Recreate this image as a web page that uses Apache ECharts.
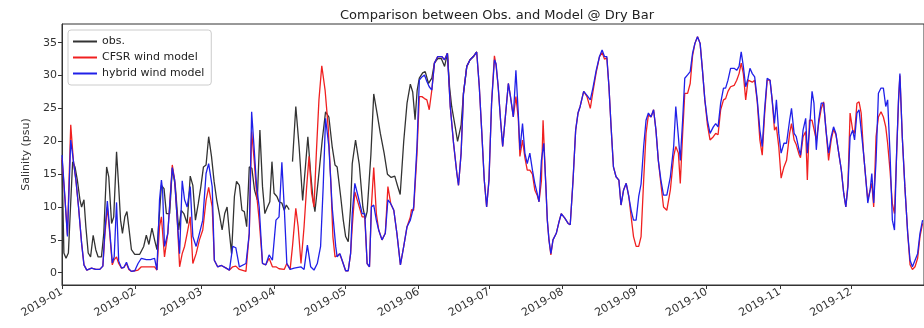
<!DOCTYPE html>
<html><head><meta charset="utf-8">
<script src="https://cdn.jsdelivr.net/npm/echarts@6/dist/echarts.min.js"></script>
<style>html,body{margin:0;padding:0;background:#fff}#c{width:924px;height:328px}</style>
</head><body><div id="c"></div>
<script>
// x values are days since 2019-01-01
const monthDays = [0,31,59,90,120,151,181,212,243,273,304,334];
const monthLabels = ['2019-01','2019-02','2019-03','2019-04','2019-05','2019-06','2019-07','2019-08','2019-09','2019-10','2019-11','2019-12'];
const yTicks = [0,5,10,15,20,25,30,35];

const obsDay = [0,0.8,1.7,2.7,4.5,5.5,6.5,7.6,8.3,9.3,10.1,11.1,12.1,13.2,14.3,15.3,16.7,17.7,18.9,19.8,21.0,21.9,23.1,24.0,24.8,25.6,26.6,27.5,28.4,29.4,30.8,32.9,34.6,35.7,36.8,38.1,39.2,40.2,42.1,43.2,44.2,45.6,46.7,48.0,49.4,50.5,51.6,53.0,54.3,55.4,56.5,57.7,58.8,59.9,61.0,62.1,63.3,64.4,65.5,66.6,67.8,68.9,69.9,70.9,71.8,73.0,73.9,75.1,76.2,77.2,78.2,79.3,80.4,81.5,82.7,83.8,84.9,85.9,87.0,88.0,88.9,89.8,91.0,91.9,93.1,94.1,95.0,96.2,96.9,97.6,99.0,100.4,101.9,104.1,105.3,106.3,107.1,108.5,110.2,111.6,113.0,114.4,115.6,116.5,118.0,119.1,120.1,121.2,122.2,122.9,124.3,125.9,127.4,128.4,129.2,130.8,132.0,133.4,134.8,136.4,137.8,139.4,140.9,142.1,143.2,144.7,146.1,147.5,148.5,149.5,150.4,151.3,152.7,153.8,155.2,156.6,157.7,159.1,160.6,162.0,163.2,164.1,165.0,166.5,167.5,169.0,170.0,171.4,172.8,174.2,175.6];
const obsSal = [17.2,3.0,2.2,3.0,16.9,16.1,14.1,11.1,10,11.1,7,3,2.4,5.7,3.5,2.4,2.4,6,16.1,14.6,7.5,8.5,18.4,13.1,8,6,8.5,9.3,6.6,3.5,2.8,2.8,4,5.7,4.3,6.8,5,3.5,13.3,12.8,9,9,15.9,13.1,6.5,9.5,9,7.5,14.7,13.3,8,10.5,13.1,16.1,16.4,20.7,17.7,13.9,11.1,9,6.5,9,10,6,2.9,11.6,13.9,13.3,9.5,9.3,7,16.1,15.9,12.6,11.1,21.7,13.1,9,10,10.8,16.9,12.1,11.6,10.8,10.6,9.5,10.3,9.6,null,16.9,25.3,19.2,11,20.7,15.1,11.1,9.3,14.1,20.2,24.5,23.7,19.2,16.4,16.1,11.6,8,5.5,4.7,10,16.6,20.2,16.4,10,8.2,9.3,18,27.2,24.3,21.2,18.2,15,14.5,14.7,13.2,11.9,20,25.8,28.7,27.5,23.3,27.8,29.6,30.4,30.6,28.8,29.6,31.9,32.6,32.6,31.4,33.4,28.3,25.3,22.2,20,22.5,27.3,31.4,32.4,32.9,33.6];

const hybDay = [0,1.3,2.3,3.7,4.8,5.9,7.0,8.3,9.3,10.5,12.5,13.2,14.3,16.0,17.3,18.1,19.2,20.2,21.3,22.1,23.1,24.0,25.2,26.2,27.3,28.3,29.4,30.8,32.2,33.6,35.7,37.5,39.2,40.2,41.3,42.1,42.6,43.4,44.8,46.7,47.7,48.8,49.8,50.9,51.9,53.0,54.3,55.4,56.8,58.2,59.6,61.0,62.1,63.6,64.5,65.9,67.5,69.5,70.9,72.3,73.6,75.1,77.9,79.3,80.3,81.4,82.4,83.5,84.9,86.3,87.7,89.1,90.6,91.9,93.1,94.1,95.2,96.6,98.3,101.1,102.5,103.9,105.3,106.7,108.1,109.5,110.6,111.6,113.0,114.4,115.9,116.5,117.7,118.6,120.1,121.2,122.2,122.9,124.0,125.4,127.1,128.2,129.2,130.2,131.0,132.0,133.1,134.1,135.5,136.9,138.0,139.2,140.5,141.8,143.3,144.7,146.1,147.5,148.9,150.3,151.3,152.4,153.5,154.5,155.5,156.6,157.7,159.1,160.8,162.0,163.2,164.4,165.8,167.2,167.9,169.0,170.0,171.4,172.8,174.2,175.6,176.7,177.7,178.8,179.8,180.8,181.9,183.1,183.8,184.7,185.7,186.6,187.6,189.0,189.9,191.1,192.2,193.2,193.9,195.0,196.0,197.0,198.1,199.2,200.2,201.2,202.0,203.0,204.0,204.9,205.5,206.2,207.0,207.9,209.3,210.5,211.4,212.9,214.3,215.2,216.4,217.5,218.5,219.4,220.9,222.3,223.7,224.8,226.2,227.6,228.7,229.7,230.7,231.6,232.5,233.5,234.6,235.8,236.7,237.8,238.9,240.0,241.0,242.0,243.1,244.2,245.2,246.3,247.3,248.3,249.4,250.5,251.5,252.5,253.6,254.7,256.1,257.6,259.0,259.9,261.0,261.8,262.8,263.7,264.9,266.0,267.0,268.0,269.1,270.2,271.2,272.2,273.3,274.4,275.8,276.8,277.8,278.9,280.1,281.0,282.0,283.1,284.6,285.7,286.7,287.6,288.5,289.5,290.5,291.3,292.3,293.3,294.4,295.5,296.5,297.5,298.6,299.8,300.7,301.7,302.5,303.5,304.5,305.7,306.8,308.1,308.9,310.0,310.9,312.1,312.7,313.8,314.9,315.6,316.5,317.6,318.4,319.4,320.4,321.5,322.5,323.5,324.6,325.7,326.7,327.7,328.9,330.0,331.0,331.9,332.8,333.7,334.8,335.6,336.6,337.5,338.4,339.4,340.4,341.2,342.2,342.9,343.7,344.7,345.7,346.8,347.8,348.8,349.6,350.6,351.6,352.5,353.4,354.2,354.8,355.8,356.9,358.1,359.1,360.1,361.2,362.3,363.3,364.4];
const hybSal = [17.9,11.1,5.5,20.2,17.1,14.1,10,4.5,1.2,0.4,0.7,1,0.5,0.5,1,6,10.9,6.5,1.5,2.4,10.7,1.8,0.7,0.8,1.6,0.6,0.2,0.3,1.4,2.2,2.0,2.0,2.2,0.4,11.1,14.1,12.5,4,6,16,14.1,8,2.9,14,11.1,10,13.1,5.5,4,6,8,15.1,16.6,13.1,1.9,0.9,1.1,0.7,0.4,4,3.8,0.9,1.4,6,24.5,18.7,13.1,10,1.4,1.2,2.7,1.9,8,8.5,16.8,10,1.4,0.5,0.7,0.9,0.5,4.2,0.9,0.4,1.4,4,13.1,23.5,19.2,10,4,2.4,2.9,1.9,0.3,0.3,2.9,9,13.6,11.6,9,9,1.4,0.9,10,10.3,8,6.5,5,6,11.1,10.5,9.5,6,1.2,4,7,8,10,19.2,29.3,29.8,30.1,29.1,28.3,27.8,31.9,32.9,32.9,32.4,33.4,25.3,19.7,15.1,13.3,18.2,27.3,31.4,32.4,32.9,33.6,28.3,21.7,14.1,10,14.1,25.8,32.4,31.8,28.3,23.2,19.2,23.2,28.8,26.8,23.7,30.8,24.3,18.7,22.7,18.2,16.6,18.2,15.6,13.6,12.1,10.8,17.1,19.7,13.1,8,5,2.9,5,6,7.8,9,8.3,7.5,7.3,14.1,21.7,24.3,25.3,27.6,27,26.3,28.1,30.8,32.9,33.9,32.9,32.9,28.3,22.2,16.1,14.6,14.1,10.3,12.6,13.6,11.6,9.5,8,8,11.6,13.5,19.2,23.2,24.3,23.7,24.8,21.7,17.1,14.1,11.8,11.8,14.6,19.2,25.3,20.7,17.1,23.2,29.6,30.1,30.6,33.4,34.9,35.9,34.9,30.8,26.3,23.2,21.2,22.2,22.7,22.2,25.8,28.1,28.1,29.3,31.1,31.1,30.8,31.4,33.6,31.4,28.3,29.6,31.1,30.3,29.8,26.3,21.7,19.2,24.8,29.6,29.3,26.3,22.7,26.3,21.2,18.2,19.7,19.7,23.2,25,21.2,20.7,18.7,17.9,21.7,23.5,18.2,21.7,27.6,25.8,18.7,23.2,25.8,25.8,21.7,18.2,20.7,22.2,21.2,18.2,15.6,12.1,10,13.1,20.7,21.7,20.2,24.3,24.8,21.7,18.2,14.1,10.6,12.6,15.1,10.6,17.1,27.3,28.1,28.1,25.3,26.3,18.2,8,6.5,18.2,26.3,30.3,20.7,13.1,6,1.9,0.9,1.9,2.9,6,8];

const cfsrDay = [0,1.3,2.3,3.7,4.8,5.9,7.0,8.3,9.3,10.5,12.5,13.2,14.3,16.0,17.3,18.1,19.2,20.2,21.3,22.1,23.1,24.0,25.2,26.2,27.3,28.3,29.4,30.8,32.2,33.6,35.7,37.5,39.2,40.2,41.3,42.1,43.4,44.8,46.7,47.7,48.8,49.8,50.9,51.9,53.0,54.3,55.4,56.8,58.2,59.6,61.0,62.1,63.6,64.5,65.9,67.5,69.5,70.9,72.3,73.6,75.1,77.9,79.3,80.3,81.4,82.4,83.5,84.9,86.3,87.7,89.1,90.6,91.9,94.1,95.2,96.6,97.6,99.0,100.0,101.2,102.5,103.5,104.6,105.7,106.7,107.7,108.8,110.0,111.4,112.7,113.8,114.7,115.6,116.5,117.5,118.6,120.1,121.2,122.2,122.9,124.0,125.4,127.1,128.2,129.2,130.2,131.0,132.0,133.1,134.1,135.5,136.9,138.0,139.2,140.5,141.8,143.3,144.7,146.1,147.5,148.0,148.9,150.3,151.3,152.4,153.5,154.5,155.5,156.6,157.7,159.1,160.8,162.0,163.2,164.4,165.8,167.2,167.9,169.0,170.0,171.4,172.8,174.2,175.6,176.7,177.7,178.8,179.8,180.8,181.9,183.1,183.8,184.7,185.7,186.6,187.6,189.0,189.9,191.1,192.2,193.2,193.9,195.0,196.0,197.0,198.1,199.2,200.2,201.2,202.0,203.0,203.7,204.9,205.5,206.2,207.0,207.9,209.3,210.5,211.4,212.9,214.3,215.2,216.4,217.5,218.5,219.4,220.9,222.3,223.7,224.8,226.2,227.6,228.7,229.7,230.7,231.6,232.5,233.5,234.6,235.8,236.7,237.8,238.9,240.0,241.0,242.0,243.1,244.2,245.2,246.3,247.3,248.3,249.4,250.5,251.5,252.5,253.6,254.7,256.1,257.6,259.0,259.9,261.0,261.8,262.8,263.7,264.9,266.0,267.0,268.0,269.1,270.2,271.2,272.2,273.3,274.4,275.8,276.8,277.8,278.9,280.1,281.0,282.0,283.1,284.6,285.7,286.7,287.6,288.5,289.5,290.5,291.3,292.3,293.3,294.4,295.5,296.5,297.5,298.6,299.8,300.7,301.7,302.5,303.5,304.5,305.7,306.8,308.1,308.9,310.0,310.9,312.1,312.7,313.8,314.9,315.6,316.5,317.6,318.4,319.4,320.4,321.5,322.5,323.5,324.6,325.7,326.7,327.7,328.9,330.0,331.0,331.9,332.8,333.7,334.8,335.6,336.6,337.5,338.4,339.4,340.4,341.2,342.2,342.9,343.7,344.7,345.7,346.8,347.8,348.8,349.6,350.6,351.6,352.5,353.4,354.2,354.8,355.8,356.9,358.1,359.1,360.1,361.2,362.3,363.3,364.4];
const cfsrSal = [17.5,11,5.8,22.5,17.1,14,10,4.5,1.2,0.4,0.7,1,0.5,0.5,1,5.5,10,6,1.2,2,2.4,1.4,0.7,0.8,1.4,0.5,0.2,0.3,0.4,0.9,0.9,0.9,0.9,0.4,7,8.5,2.4,6,16.4,14.1,8,0.9,2.9,4,6,8.5,1.4,2.9,5,6.5,11,13,10,1.9,0.9,1.1,0.7,0.4,0.9,1,0.5,0.2,6,21.5,17,12,8,1.4,1.2,2.2,0.9,0.9,0.6,0.5,1.4,0.5,4,9.8,7,1.4,7,12.6,17.7,12.1,10,18.2,26.3,31.5,27.8,22.2,14.1,5.5,2.4,2.6,2.9,1.9,0.3,0.3,2.9,7,12.3,10.6,8.5,8.5,1.4,0.9,10,16,9,6.5,5,6,13.1,10.5,9.5,6,1.2,4,7,8.5,9.6,9.5,18,26.8,26.8,26.5,26.3,24.8,27.8,31.9,32.9,32.9,32.4,33.4,25.3,19.7,15.1,13.3,18.2,27.3,31.4,32.4,32.9,33.6,28.3,21.7,14.1,10,14.1,25.8,33,31.5,28.3,23.2,19.2,23.2,28.8,26.8,23.7,26.8,23.5,17.7,20.2,17.5,15.6,15.6,15,12.6,11.8,10.8,14,23.2,13,8,5,2.7,5,6,7.8,9,8.3,7.5,7.3,14.1,21.7,24.3,25.3,27.6,26.8,25,27.5,30.5,32.9,33.5,32.5,32.7,28.3,22.2,16.1,14.6,14.1,10.3,12.6,13.6,11.6,8.5,5.5,4,4,5.5,14.1,21.2,24,23.7,24.8,21.7,17.1,13.5,10,9.5,12.6,17.7,19.2,18.2,13.6,21.2,27.3,27.3,28.8,33,34.9,35.9,34.9,30.8,26.3,22.5,20.2,20.7,21.2,21,24.8,26.3,26.5,27.6,28.3,28.5,29.3,30.3,31.9,30.3,26.3,29.3,29.5,29,29.3,26,20.2,17.9,24,29.3,29.3,26.3,21.7,22.2,19.2,14.4,16.1,17.1,21.2,22.7,20.2,19.5,18,17.5,20.7,21.5,14.1,23.2,23.2,23.5,20.2,22.7,25,26,21.7,17.1,20.2,21.8,21,18.2,15.6,12.1,10,13.5,24.3,21.7,21.2,25.8,26,24.3,18.2,14.1,11.1,12.6,13.6,10,20.7,23.7,24.5,23.7,22.2,19.7,15.6,10.5,9,18,26,30,20.7,13.1,6,1.2,0.5,0.9,2.2,5.5,7.5];

function pairs(days, vals) {
  return days.map((d, i) => [d, vals[i] === null ? '-' : vals[i]]);
}

const FONT = 'DejaVu Sans';
const chart = echarts.init(document.getElementById('c'), null, {renderer: 'canvas'});
chart.setOption({
  animation: false,
  backgroundColor: '#fff',
  textStyle: {fontFamily: FONT},
  title: {
    text: 'Comparison between Obs. and Model @ Dry Bar',
    left: 492, top: 4, textAlign: 'center',
    textStyle: {fontSize: 13, fontWeight: 'normal', color: '#222', fontFamily: FONT}
  },
  legend: {
    orient: 'vertical', left: 68, top: 30,
    icon: 'rect', itemWidth: 24, itemHeight: 2, itemGap: 3,
    padding: [5, 7, 5, 5],
    backgroundColor: '#fff', borderColor: '#ccc', borderWidth: 1, borderRadius: 3,
    textStyle: {fontSize: 11, color: '#222', lineHeight: 13, fontFamily: FONT},
    data: ['obs.', 'CFSR wind model', 'hybrid wind model']
  },
  grid: {left: 62, right: -3, top: 24, bottom: 43, show: true, borderColor: '#333', borderWidth: 1, backgroundColor: 'transparent'},
  xAxis: {
    type: 'value', min: 0, max: 365,
    axisLine: {show: true, onZero: false, lineStyle: {color: '#333'}},
    axisTick: {show: true, customValues: monthDays, length: 4, lineStyle: {color: '#333'}},
    axisLabel: {customValues: monthDays, formatter: v => monthLabels[monthDays.indexOf(v)] || '', rotate: 30, fontSize: 11, color: '#333', margin: 6, fontFamily: FONT},
    splitLine: {show: false}
  },
  yAxis: {
    type: 'value', min: -1.87, max: 37.85,
    name: 'Salinity (psu)', nameLocation: 'middle', nameGap: 28,
    nameTextStyle: {fontSize: 11, color: '#333', fontFamily: FONT},
    axisLine: {show: true, onZero: false, lineStyle: {color: '#333'}},
    axisTick: {show: true, customValues: yTicks, length: 4, lineStyle: {color: '#333'}},
    axisLabel: {customValues: yTicks, fontSize: 11, color: '#333', margin: 5, fontFamily: FONT},
    splitLine: {show: false}
  },
  series: [
    {name: 'obs.', type: 'line', data: pairs(obsDay, obsSal), symbol: 'none', connectNulls: false,
     lineStyle: {color: '#333', width: 1.3}, itemStyle: {color: '#333'}},
    {name: 'CFSR wind model', type: 'line', data: pairs(cfsrDay, cfsrSal), symbol: 'none',
     lineStyle: {color: '#f02020', width: 1.3}, itemStyle: {color: '#f02020'}},
    {name: 'hybrid wind model', type: 'line', data: pairs(hybDay, hybSal), symbol: 'none',
     lineStyle: {color: '#2020e8', width: 1.3}, itemStyle: {color: '#2020e8'}}
  ]
});
</script></body></html>
